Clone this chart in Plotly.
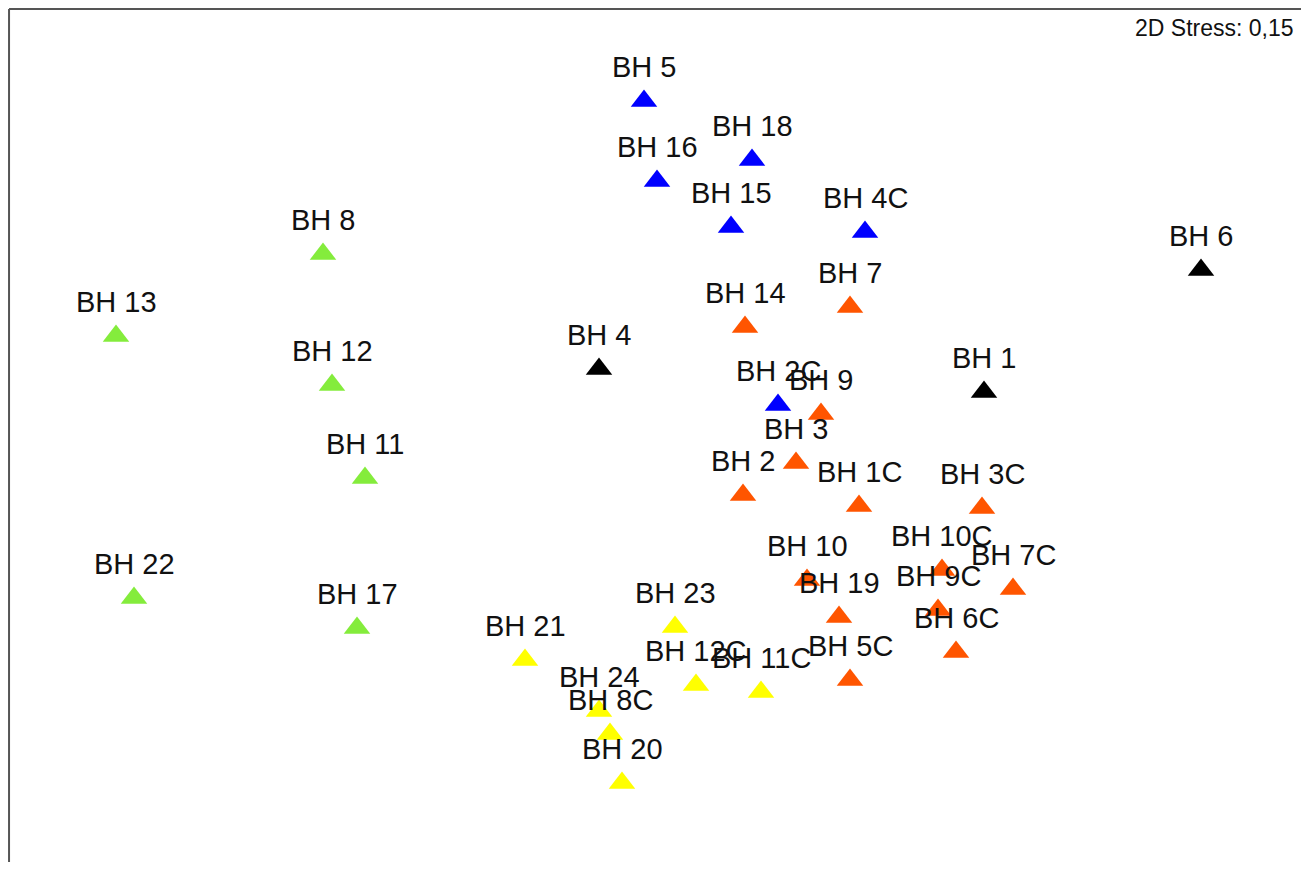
import plotly.graph_objects as go

# MDS ordination, coordinates (arbitrary units)
blue_names = ['BH 5', 'BH 18', 'BH 16', 'BH 15', 'BH 4C', 'BH 2C']
blue_x = [643, 751, 656, 730, 864, 777]
blue_y = [100, 159, 180, 226, 231, 404]

black_names = ['BH 6', 'BH 4', 'BH 1']
black_x = [1200, 598, 983]
black_y = [269, 368, 391]

green_names = ['BH 8', 'BH 13', 'BH 12', 'BH 11', 'BH 22', 'BH 17']
green_x = [322, 115, 331, 364, 133, 356]
green_y = [253, 335, 384, 477, 597, 627]

orange_names = ['BH 7', 'BH 14', 'BH 9', 'BH 3', 'BH 2', 'BH 1C', 'BH 3C',
                'BH 10C', 'BH 7C', 'BH 10', 'BH 9C', 'BH 19', 'BH 6C', 'BH 5C']
orange_x = [849, 744, 820, 795, 742, 858, 981, 941, 1012, 806, 937, 838, 955, 849]
orange_y = [306, 326, 413, 462, 494, 505, 507, 569, 588, 579, 609, 616, 651, 679]

yellow_names = ['BH 23', 'BH 21', 'BH 12C', 'BH 11C', 'BH 24', 'BH 8C', 'BH 20']
yellow_x = [674, 524, 695, 760, 598, 609, 621]
yellow_y = [626, 659, 684, 691, 710, 733, 782]

stress_text = '2D Stress: 0,15'

groups = [
    (blue_names, blue_x, blue_y, '#0000FF'),
    (black_names, black_x, black_y, '#000000'),
    (green_names, green_x, green_y, '#84EC3C'),
    (orange_names, orange_x, orange_y, '#FF5500'),
    (yellow_names, yellow_x, yellow_y, '#FFFF00'),
]

fig = go.Figure()
annotations = []

for names, xs, ys, color in groups:
    fig.add_trace(go.Scatter(
        x=xs, y=ys, mode='markers',
        marker=dict(symbol='triangle-up', size=23, color=color,
                    line=dict(width=0)),
        hovertext=names, showlegend=False
    ))
    for name, x, y in zip(names, xs, ys):
        annotations.append(dict(
            x=x, y=y, text=name, showarrow=False, yshift=34,
            xanchor='center', yanchor='middle',
            font=dict(family='Arial, Liberation Sans', size=29, color='#111111')
        ))

annotations.append(dict(
    x=0.991, y=0.977, xref='paper', yref='paper', text=stress_text,
    showarrow=False, xanchor='right', yanchor='middle',
    font=dict(family='Arial, Liberation Sans', size=23, color='#111111')
))

# frame: left, top, right (bottom edge falls outside the picture)
frame_line = dict(color='#555555', width=2)
shapes = [
    dict(type='line', xref='paper', yref='paper', x0=0.0008, x1=0.0008, y0=0, y1=0.9988, line=frame_line),
    dict(type='line', xref='paper', yref='paper', x0=0.0008, x1=0.9992, y0=0.9988, y1=0.9988, line=frame_line),
    dict(type='line', xref='paper', yref='paper', x0=0.9992, x1=0.9992, y0=0, y1=0.9988, line=frame_line),
]

# page body adds an 8px margin, so the figure is sized to fit inside it
fig.update_layout(
    width=1300,
    height=854,
    margin=dict(l=0, r=0, t=0, b=0, pad=0),
    plot_bgcolor='white',
    paper_bgcolor='white',
    annotations=annotations,
    shapes=shapes,
    xaxis=dict(range=[7, 1307], visible=False, fixedrange=True),
    yaxis=dict(range=[861, 7], visible=False, fixedrange=True),
)

fig.write_html("out.html")
